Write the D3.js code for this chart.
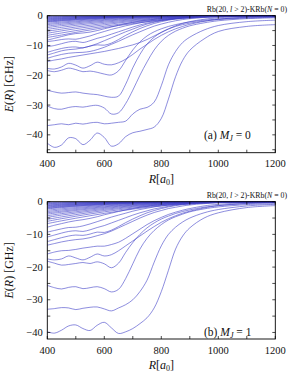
<!DOCTYPE html>
<html>
<head>
<meta charset="utf-8">
<script src="https://cdn.jsdelivr.net/npm/d3@7"></script>
<style>
  html, body { margin: 0; padding: 0; background: #fff; }
  svg { display: block; }
  text { font-family: "Liberation Serif", "DejaVu Serif", serif; fill: #111; }
</style>
</head>
<body>
<div id="chart"></div>
<script>
// R grids (a0)
const rFine = [400,425,450,475,500,525,550,575,600,625,650,675,700,725,750,775,800,825,850,875,900,950,1000,1100,1200];
const rCoarse = [400,450,500,550,600,650,700,750,800,900,1000,1200];

// panel (a) M_J = 0 : deep wavy curves on rFine
const deepA = [
  [-42.8,-44.2,-43.4,-41.0,-41.3,-43.3,-41.8,-39.4,-40.9,-43.8,-43.0,-40.6,-39.3,-38.8,-38.2,-37.4,-34.5,-28.0,-20.5,-15.0,-11.6,-7.8,-5.3,-3.6,-3.0],
  [-36.9,-36.6,-36.3,-36.6,-36.1,-36.4,-36.0,-35.8,-36.3,-36.1,-35.8,-35.4,-33.0,-31.4,-30.8,-29.0,-23.5,-16.5,-12.0,-9.0,-7.2,-4.8,-3.3,-2.0,-1.5],
  [-30.3,-31.2,-31.4,-30.8,-30.5,-30.7,-30.3,-30.1,-31.0,-33.0,-32.6,-29.5,-25.0,-20.0,-15.5,-11.5,-8.6,-6.6,-5.2,-4.2,-3.4,-2.4,-1.7,-1.0,-0.7],
  [-25.0,-25.6,-26.0,-25.8,-25.6,-26.0,-26.3,-26.5,-27.0,-27.4,-27.0,-23.0,-17.5,-13.0,-9.5,-7.2,-5.6,-4.5,-3.6,-3.0,-2.5,-1.8,-1.3,-0.8,-0.5],
  [-18.4,-18.8,-18.3,-17.6,-18.1,-18.8,-18.6,-19.0,-19.6,-19.9,-18.5,-15.0,-11.5,-8.8,-6.8,-5.4,-4.4,-3.6,-3.0,-2.5,-2.1,-1.5,-1.1,-0.6,-0.4]
];
// panel (a) middle curves on rFine
const midA = [
  [-17.7,-17.9,-17.2,-16.0,-16.6,-17.6,-16.8,-15.6,-16.3,-16.5,-15.8,-14.6,-13.0,-11.2,-9.6,-8.0,-6.6,-5.4,-4.4,-3.6,-2.9,-1.9,-1.2,-0.5,-0.2],
  [-15.4,-14.9,-14.5,-14.0,-13.6,-13.2,-12.8,-12.4,-12.0,-11.5,-11.0,-10.4,-9.8,-9.0,-8.0,-6.8,-5.6,-4.4,-3.4,-2.6,-2.0,-1.2,-0.7,-0.3,-0.1],
  [-14.3,-13.6,-13.0,-12.6,-12.4,-12.3,-12.0,-11.4,-10.6,-9.6,-8.6,-7.5,-6.4,-5.4,-4.4,-3.5,-2.8,-2.2,-1.7,-1.3,-1.0,-0.6,-0.3,-0.1,0],
  [-13.2,-12.5,-11.8,-11.4,-11.2,-10.8,-10.2,-9.4,-8.4,-7.4,-6.4,-5.4,-4.5,-3.6,-2.8,-2.2,-1.7,-1.3,-1.0,-0.7,-0.5,-0.3,-0.2,-0.1,0],
  [-12.3,-11.6,-11.0,-10.6,-10.5,-10.8,-10.2,-9.8,-9.9,-9.2,-8.0,-6.6,-5.4,-4.3,-3.4,-2.6,-2.0,-1.5,-1.1,-0.8,-0.6,-0.3,-0.2,-0.1,0],
  [-10.4,-10.0,-9.4,-8.8,-8.6,-9.0,-8.4,-7.6,-7.0,-6.2,-5.4,-4.6,-3.8,-3.1,-2.5,-2.0,-1.6,-1.2,-0.9,-0.7,-0.5,-0.3,-0.1,0,0],
  [-8.7,-8.4,-8.0,-7.8,-7.9,-7.4,-6.8,-6.0,-5.3,-4.6,-4.0,-3.4,-2.9,-2.4,-2.0,-1.6,-1.3,-1.0,-0.8,-0.6,-0.4,-0.2,-0.1,0,0],
  [-8.2,-7.6,-7.0,-6.4,-6.0,-5.8,-5.5,-5.0,-4.4,-3.8,-3.2,-2.7,-2.2,-1.8,-1.5,-1.2,-0.9,-0.7,-0.5,-0.4,-0.3,-0.2,-0.1,0,0]
];
// panel (a) dense bundle near threshold on rCoarse
const bundleA = [
  [-0.2,-0.15,-0.1,-0.07,-0.05,-0.03,-0.02,-0.01,0,0,0,0],
  [-0.4,-0.3,-0.22,-0.16,-0.11,-0.08,-0.05,-0.03,-0.02,0,0,0],
  [-0.6,-0.45,-0.33,-0.24,-0.17,-0.12,-0.08,-0.05,-0.03,-0.01,0,0],
  [-0.8,-0.62,-0.47,-0.35,-0.25,-0.18,-0.12,-0.08,-0.05,-0.02,0,0],
  [-1.0,-0.8,-0.6,-0.45,-0.33,-0.24,-0.17,-0.11,-0.07,-0.03,-0.01,0],
  [-1.2,-0.95,-0.73,-0.55,-0.41,-0.3,-0.21,-0.14,-0.09,-0.04,-0.01,0],
  [-1.4,-1.1,-0.85,-0.65,-0.5,-0.36,-0.26,-0.18,-0.12,-0.05,-0.02,0],
  [-1.6,-1.28,-1.0,-0.77,-0.58,-0.43,-0.31,-0.21,-0.14,-0.06,-0.02,0],
  [-1.8,-1.45,-1.15,-0.9,-0.68,-0.5,-0.36,-0.25,-0.17,-0.07,-0.03,0],
  [-2.0,-1.62,-1.3,-1.02,-0.78,-0.58,-0.42,-0.3,-0.2,-0.08,-0.03,0],
  [-2.2,-1.8,-1.45,-1.15,-0.88,-0.66,-0.48,-0.34,-0.23,-0.1,-0.04,-0.01],
  [-2.6,-2.15,-1.75,-1.4,-1.08,-0.82,-0.6,-0.43,-0.3,-0.13,-0.05,-0.01],
  [-3.0,-2.5,-2.05,-1.65,-1.3,-1.0,-0.74,-0.53,-0.37,-0.16,-0.07,-0.01],
  [-3.5,-2.9,-2.4,-1.95,-1.55,-1.2,-0.9,-0.65,-0.45,-0.2,-0.08,-0.02],
  [-4.0,-3.35,-2.8,-2.3,-1.85,-1.45,-1.1,-0.8,-0.56,-0.25,-0.1,-0.02],
  [-4.6,-3.9,-3.25,-2.7,-2.2,-1.75,-1.35,-1.0,-0.7,-0.32,-0.13,-0.03],
  [-5.2,-4.5,-3.8,-3.2,-2.6,-2.1,-1.6,-1.2,-0.85,-0.4,-0.17,-0.04],
  [-5.9,-5.1,-4.35,-3.7,-3.05,-2.45,-1.9,-1.45,-1.05,-0.5,-0.22,-0.05],
  [-6.6,-5.8,-5.0,-4.25,-3.55,-2.9,-2.3,-1.75,-1.3,-0.64,-0.3,-0.07],
  [-7.3,-6.5,-5.6,-4.8,-4.0,-3.3,-2.65,-2.05,-1.55,-0.8,-0.38,-0.1]
];

// panel (b) M_J = 1
const deepB = [
  [-39.8,-40.2,-39.3,-38.0,-37.7,-38.8,-39.4,-37.8,-36.9,-38.6,-40.3,-39.8,-38.8,-37.3,-35.5,-32.5,-27.5,-21.0,-14.5,-10.5,-8.0,-5.0,-3.4,-1.8,-1.2],
  [-32.9,-32.7,-32.4,-32.5,-33.0,-32.6,-32.3,-32.2,-32.8,-33.4,-32.5,-31.5,-30.0,-27.5,-24.0,-18.5,-13.5,-10.0,-7.8,-6.2,-5.0,-3.4,-2.4,-1.3,-0.8],
  [-25.6,-26.3,-26.7,-26.2,-26.0,-26.6,-26.3,-26.0,-26.6,-27.6,-26.8,-23.5,-19.0,-14.5,-11.2,-8.8,-7.0,-5.6,-4.6,-3.8,-3.1,-2.2,-1.6,-0.9,-0.6],
  [-18.2,-18.8,-19.4,-19.2,-18.9,-18.6,-18.9,-18.4,-19.0,-20.2,-18.8,-15.5,-12.5,-10.0,-8.0,-6.5,-5.3,-4.4,-3.6,-3.0,-2.5,-1.7,-1.2,-0.6,-0.3]
];
const midB = [
  [-17.5,-17.8,-17.5,-16.6,-17.2,-17.8,-17.0,-16.0,-16.6,-16.2,-15.0,-13.5,-12.0,-10.5,-9.0,-7.6,-6.3,-5.2,-4.3,-3.5,-2.9,-1.9,-1.2,-0.5,-0.2],
  [-16.0,-15.4,-15.0,-14.9,-14.6,-14.2,-13.9,-13.6,-13.6,-13.1,-12.4,-11.2,-9.8,-8.4,-7.0,-5.8,-4.8,-3.9,-3.2,-2.6,-2.1,-1.3,-0.8,-0.3,-0.1],
  [-13.3,-12.8,-12.3,-11.9,-11.6,-11.4,-11.0,-10.4,-9.8,-9.0,-8.0,-7.0,-6.0,-5.0,-4.1,-3.3,-2.7,-2.1,-1.7,-1.3,-1.0,-0.6,-0.3,-0.1,0],
  [-12.2,-11.6,-11.0,-10.5,-10.2,-10.3,-9.9,-9.3,-9.4,-8.7,-7.6,-6.4,-5.3,-4.3,-3.4,-2.7,-2.1,-1.6,-1.2,-0.9,-0.7,-0.4,-0.2,-0.1,0],
  [-10.8,-10.2,-9.6,-9.1,-8.9,-9.1,-8.6,-7.9,-7.3,-6.5,-5.7,-4.9,-4.1,-3.4,-2.8,-2.2,-1.8,-1.4,-1.0,-0.8,-0.6,-0.3,-0.2,0,0],
  [-9.3,-8.8,-8.3,-7.9,-7.8,-7.4,-6.8,-6.1,-5.4,-4.7,-4.1,-3.5,-2.9,-2.4,-2.0,-1.6,-1.3,-1.0,-0.8,-0.6,-0.4,-0.2,-0.1,0,0],
  [-7.8,-7.2,-6.7,-6.2,-5.8,-5.5,-5.1,-4.6,-4.0,-3.5,-3.0,-2.5,-2.1,-1.7,-1.4,-1.1,-0.9,-0.7,-0.5,-0.4,-0.3,-0.2,-0.1,0,0]
];
const bundleB = [
  [-0.2,-0.15,-0.1,-0.07,-0.05,-0.03,-0.02,-0.01,0,0,0,0],
  [-0.4,-0.3,-0.22,-0.16,-0.11,-0.08,-0.05,-0.03,-0.02,0,0,0],
  [-0.6,-0.46,-0.34,-0.25,-0.18,-0.12,-0.08,-0.05,-0.03,-0.01,0,0],
  [-0.8,-0.63,-0.48,-0.36,-0.26,-0.18,-0.12,-0.08,-0.05,-0.02,0,0],
  [-1.0,-0.8,-0.62,-0.47,-0.35,-0.25,-0.17,-0.11,-0.07,-0.03,-0.01,0],
  [-1.2,-0.96,-0.75,-0.57,-0.43,-0.31,-0.22,-0.14,-0.09,-0.04,-0.01,0],
  [-1.4,-1.12,-0.88,-0.68,-0.51,-0.37,-0.27,-0.18,-0.12,-0.05,-0.02,0],
  [-1.6,-1.3,-1.02,-0.8,-0.6,-0.44,-0.32,-0.22,-0.15,-0.06,-0.02,0],
  [-1.8,-1.47,-1.17,-0.92,-0.7,-0.52,-0.37,-0.26,-0.18,-0.07,-0.03,0],
  [-2.0,-1.64,-1.32,-1.04,-0.8,-0.6,-0.43,-0.3,-0.21,-0.08,-0.03,0],
  [-2.2,-1.82,-1.47,-1.17,-0.9,-0.68,-0.5,-0.35,-0.24,-0.1,-0.04,-0.01],
  [-2.6,-2.17,-1.78,-1.43,-1.1,-0.84,-0.62,-0.44,-0.31,-0.13,-0.05,-0.01],
  [-3.0,-2.52,-2.08,-1.68,-1.32,-1.02,-0.76,-0.55,-0.38,-0.16,-0.07,-0.01],
  [-3.4,-2.88,-2.4,-1.95,-1.55,-1.2,-0.9,-0.66,-0.46,-0.2,-0.08,-0.02],
  [-3.8,-3.22,-2.7,-2.22,-1.78,-1.4,-1.06,-0.78,-0.55,-0.24,-0.1,-0.02],
  [-4.3,-3.65,-3.08,-2.55,-2.06,-1.62,-1.24,-0.92,-0.65,-0.3,-0.12,-0.03],
  [-4.8,-4.1,-3.48,-2.9,-2.36,-1.87,-1.44,-1.07,-0.77,-0.36,-0.15,-0.03],
  [-5.4,-4.65,-3.95,-3.3,-2.7,-2.15,-1.67,-1.25,-0.9,-0.43,-0.19,-0.04],
  [-6.0,-5.2,-4.45,-3.75,-3.1,-2.5,-1.95,-1.48,-1.08,-0.53,-0.24,-0.05],
  [-6.7,-5.85,-5.05,-4.3,-3.58,-2.9,-2.28,-1.74,-1.28,-0.65,-0.3,-0.07]
];

const xTicks = [400, 600, 800, 1000, 1200];
const xMinor = [500, 700, 900, 1100];
const yTicks = [0, -10, -20, -30, -40];
const yMinor = [-5, -15, -25, -35, -45];

const W = 296, H = 376;
const svg = d3.select("#chart").append("svg").attr("width", W).attr("height", H);

const x = d3.scaleLinear().domain([400, 1200]).range([47.3, 275.3]);
const fmt = d => d < 0 ? "\u2212" + Math.abs(d) : String(d);

function panel(id, top, bottom, yMin, deep, mid, bundle, tag, mj) {
  const y = d3.scaleLinear().domain([yMin, 0]).range([bottom, top]);
  const g = svg.append("g");

  g.append("clipPath").attr("id", "clip" + id)
    .append("rect").attr("x", x(400)).attr("y", top)
    .attr("width", x(1200) - x(400)).attr("height", bottom - top);

  const line = d3.line().curve(d3.curveCatmullRom.alpha(0.5));
  const curves = g.append("g").attr("clip-path", `url(#clip${id})`)
    .attr("fill", "none").attr("stroke", "#4040c8").attr("stroke-width", 0.6);

  curves.selectAll("path.b").data(bundle).join("path").attr("class", "b")
    .attr("d", e => line(e.map((v, i) => [x(rCoarse[i]), y(v)])));
  curves.selectAll("path.m").data(mid.concat(deep)).join("path").attr("class", "m")
    .attr("d", e => line(e.map((v, i) => [x(rFine[i]), y(v)])));

  // frame
  g.append("rect").attr("x", x(400)).attr("y", top)
    .attr("width", x(1200) - x(400)).attr("height", bottom - top)
    .attr("fill", "none").attr("stroke", "#000").attr("stroke-width", 0.9);

  // inward ticks
  const tk = 3;
  const allX = xTicks.concat(xMinor), allY = yTicks.concat(yMinor).filter(v => v >= yMin);
  g.selectAll(null).data(allX).join("line")
    .attr("x1", d => x(d)).attr("x2", d => x(d)).attr("y1", bottom).attr("y2", bottom - tk)
    .attr("stroke", "#000").attr("stroke-width", 0.7);
  g.selectAll(null).data(allX).join("line")
    .attr("x1", d => x(d)).attr("x2", d => x(d)).attr("y1", top).attr("y2", top + tk)
    .attr("stroke", "#000").attr("stroke-width", 0.7);
  g.selectAll(null).data(allY).join("line")
    .attr("x1", x(400)).attr("x2", x(400) + tk).attr("y1", d => y(d)).attr("y2", d => y(d))
    .attr("stroke", "#000").attr("stroke-width", 0.7);
  g.selectAll(null).data(allY).join("line")
    .attr("x1", x(1200)).attr("x2", x(1200) - tk).attr("y1", d => y(d)).attr("y2", d => y(d))
    .attr("stroke", "#000").attr("stroke-width", 0.7);

  // tick labels
  g.selectAll(null).data(xTicks).join("text")
    .attr("x", d => x(d)).attr("y", bottom + 14.5).attr("text-anchor", "middle")
    .style("font-size", "10.5px").text(d => d);
  g.selectAll(null).data(yTicks).join("text")
    .attr("x", x(400) - 4.5).attr("y", d => y(d) + 3.6).attr("text-anchor", "end")
    .style("font-size", "10.5px").text(fmt);

  // axis titles
  const xt = g.append("text").attr("x", x(800)).attr("y", bottom + 30)
    .attr("text-anchor", "middle").style("font-size", "12px");
  xt.append("tspan").style("font-style", "italic").text("R");
  xt.append("tspan").text("[");
  xt.append("tspan").style("font-style", "italic").text("a");
  xt.append("tspan").attr("dy", 2).style("font-size", "8px").text("0");
  xt.append("tspan").attr("dy", -2).text("]");

  const yt = g.append("text")
    .attr("transform", `translate(13,${(top + bottom) / 2}) rotate(-90)`)
    .attr("text-anchor", "middle").style("font-size", "12px");
  yt.append("tspan").style("font-style", "italic").text("E");
  yt.append("tspan").text("(");
  yt.append("tspan").style("font-style", "italic").text("R");
  yt.append("tspan").text(")  [GHz]");

  // header
  const hd = g.append("text").attr("x", 287).attr("y", top - 3.5)
    .attr("text-anchor", "end").style("font-size", "7.8px");
  hd.append("tspan").text("Rb(20, ");
  hd.append("tspan").style("font-style", "italic").text("l");
  hd.append("tspan").text(" > 2)-KRb(");
  hd.append("tspan").style("font-style", "italic").text("N");
  hd.append("tspan").text(" = 0)");

  // panel label
  const lb = g.append("text").attr("x", 204).attr("y", y(-40) + 3.8)
    .style("font-size", "11.5px");
  lb.append("tspan").text(tag + "  ");
  lb.append("tspan").style("font-style", "italic").text("M");
  lb.append("tspan").attr("dy", 2).style("font-size", "8px").style("font-style", "italic").text("J");
  lb.append("tspan").attr("dy", -2).text(" = " + mj);
}

panel("a", 15.7, 152.7, -46, deepA, midA, bundleA, "(a)", 0);
panel("b", 201.7, 339, -42, deepB, midB, bundleB, "(b)", 1);
</script>
</body>
</html>
